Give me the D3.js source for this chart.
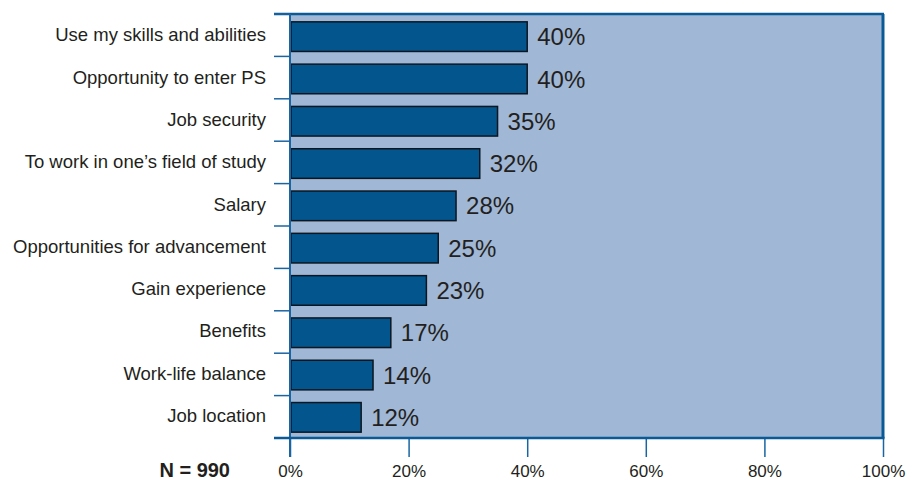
<!DOCTYPE html>
<html>
<head>
<meta charset="utf-8">
<script src="https://cdn.jsdelivr.net/npm/d3@7"></script>
<style>
  html, body { margin: 0; padding: 0; background: #fff; }
  svg { display: block; font-family: "Liberation Sans", Arial, Helvetica, sans-serif; }
</style>
</head>
<body>
<svg id="chart" width="908" height="479"></svg>
<script>
// Reasons for choosing the job, share of respondents
const categories = [
  "Use my skills and abilities",
  "Opportunity to enter PS",
  "Job security",
  "To work in one\u2019s field of study",
  "Salary",
  "Opportunities for advancement",
  "Gain experience",
  "Benefits",
  "Work-life balance",
  "Job location"
];
const values = [40, 40, 35, 32, 28, 25, 23, 17, 14, 12];
const xTicks = [0, 20, 40, 60, 80, 100];
const sampleNote = "N = 990";

const svg = d3.select("#chart");
const plot = { left: 290, right: 883, top: 14, bottom: 438 };
const axisBlue = "#1a64a2";
const frameBlue = "#0b5a98";
const textColor = "#231f20";

const x = d3.scaleLinear().domain([0, 100]).range([plot.left, plot.right]);
const yRows = d3.scaleBand().domain(categories).range([plot.top, plot.bottom]).padding(0);
const y = d3.scaleBand().domain(categories).range([plot.top + 1.5, plot.bottom + 0.5])
  .paddingInner(0.3).paddingOuter(0.15);

// plot background
svg.append("rect")
  .attr("x", plot.left).attr("y", plot.top)
  .attr("width", plot.right - plot.left).attr("height", plot.bottom - plot.top)
  .attr("fill", "#a0b7d5");

// bars
svg.append("g").selectAll("rect")
  .data(values)
  .join("rect")
  .attr("x", x(0) + 1)
  .attr("y", (d, i) => y(categories[i]))
  .attr("width", d => x(d) - x(0) - 1)
  .attr("height", y.bandwidth())
  .attr("fill", "#03558e")
  .attr("stroke", "#0c1620")
  .attr("stroke-width", 1.5);

// value labels
svg.append("g").selectAll("text")
  .data(values)
  .join("text")
  .attr("x", d => x(d) + 10)
  .attr("y", (d, i) => y(categories[i]) + y.bandwidth() / 2)
  .attr("dy", "0.36em")
  .attr("font-size", 24)
  .attr("fill", textColor)
  .text(d => d + "%");

// frame: top and right edges
svg.append("line")
  .attr("x1", plot.left - 16).attr("x2", plot.right + 1)
  .attr("y1", plot.top).attr("y2", plot.top)
  .attr("stroke", frameBlue).attr("stroke-width", 2.5);
svg.append("line")
  .attr("x1", plot.right).attr("x2", plot.right)
  .attr("y1", plot.top).attr("y2", plot.bottom)
  .attr("stroke", frameBlue).attr("stroke-width", 3);

// y axis: row boundary ticks and category labels
const boundaries = categories.map(c => yRows(c)).concat([plot.bottom]);
svg.append("g").selectAll("line")
  .data(boundaries)
  .join("line")
  .attr("x1", plot.left - 16).attr("x2", plot.left)
  .attr("y1", d => d).attr("y2", d => d)
  .attr("stroke", axisBlue).attr("stroke-width", 1.5);
svg.append("g").selectAll("text")
  .data(categories)
  .join("text")
  .attr("x", 266)
  .attr("y", d => y(d) + y.bandwidth() / 2 - 2)
  .attr("dy", "0.36em")
  .attr("text-anchor", "end")
  .attr("font-size", 18.5)
  .attr("fill", textColor)
  .text(d => d);

// x axis
const xAxis = svg.append("g")
  .attr("transform", `translate(0,${plot.bottom})`)
  .call(d3.axisBottom(x).tickValues(xTicks).tickSize(19).tickFormat(d => d + "%"));
xAxis.select(".domain").remove();
xAxis.selectAll(".tick line").attr("stroke", axisBlue).attr("stroke-width", 1.5);
xAxis.selectAll(".tick text")
  .attr("y", 38.5)
  .attr("dy", 0)
  .attr("font-size", 17)
  .attr("font-family", "Liberation Sans, Arial, sans-serif")
  .attr("fill", textColor);

// left axis line and bottom edge
svg.append("line")
  .attr("x1", plot.left).attr("x2", plot.left)
  .attr("y1", plot.top).attr("y2", plot.bottom + 19)
  .attr("stroke", axisBlue).attr("stroke-width", 2);
svg.append("line")
  .attr("x1", plot.left - 16).attr("x2", plot.right + 1.5)
  .attr("y1", plot.bottom).attr("y2", plot.bottom)
  .attr("stroke", frameBlue).attr("stroke-width", 2.5);

// sample size note
svg.append("text")
  .attr("x", 230).attr("y", 476.5)
  .attr("text-anchor", "end")
  .attr("font-size", 20)
  .attr("font-weight", "bold")
  .attr("fill", textColor)
  .text(sampleNote);
</script>
</body>
</html>
